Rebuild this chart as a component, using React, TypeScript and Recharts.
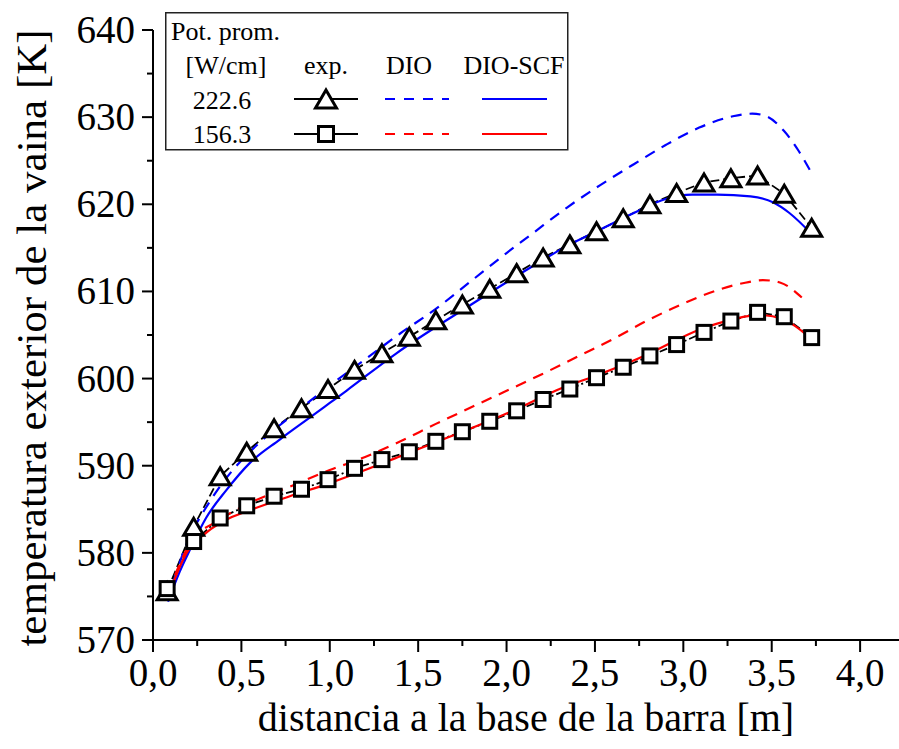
import React from "react";
import { LineChart, Line, XAxis, YAxis } from "recharts";

const FONT = '"Liberation Serif", "Times New Roman", serif';

// measured points (exp.)
const expX = [0.08, 0.23, 0.38, 0.53, 0.685, 0.84, 0.99, 1.14, 1.295, 1.45, 1.6, 1.75, 1.905, 2.057, 2.207, 2.358, 2.509, 2.66, 2.811, 2.962, 3.117, 3.269, 3.42, 3.571, 3.726];
const exp226 = [575.6, 583.0, 588.8, 591.6, 594.3, 596.6, 598.8, 601.0, 602.9, 604.8, 606.7, 608.5, 610.3, 612.1, 613.9, 615.4, 616.9, 618.4, 620.0, 621.3, 622.5, 623.0, 623.3, 621.2, 617.3];
const exp156 = [575.9, 581.3, 584.0, 585.4, 586.5, 587.3, 588.4, 589.7, 590.7, 591.6, 592.8, 593.9, 595.1, 596.3, 597.6, 598.8, 600.1, 601.3, 602.6, 603.9, 605.3, 606.6, 607.6, 607.1, 604.7];

// DIO, 222.6 W/cm
const dio226X = [0.085, 0.15, 0.2, 0.3, 0.4, 0.5, 0.6, 0.8, 1.0, 1.2, 1.4, 1.6, 1.8, 2.0, 2.15, 2.34, 2.53, 2.72, 2.9, 3.09, 3.28, 3.39, 3.47, 3.57, 3.65, 3.73];
const dio226 = [574.6, 578.8, 581.5, 585.2, 588.2, 590.6, 592.6, 596.0, 599.2, 602.2, 605.2, 608.0, 611.2, 614.4, 616.7, 619.6, 622.2, 624.6, 626.8, 628.8, 630.1, 630.4, 630.1, 628.4, 626.2, 623.4];

// DIO-SCF, 222.6 W/cm
const scf226X = [0.085, 0.15, 0.21, 0.3, 0.415, 0.547, 0.717, 0.906, 1.0, 1.094, 1.377, 1.754, 2.14, 2.34, 2.53, 2.72, 2.9, 3.05, 3.19, 3.38, 3.51, 3.6, 3.73];
const scf226 = [574.4, 577.8, 580.4, 584.0, 587.2, 590.3, 593.0, 595.8, 597.2, 598.6, 602.9, 607.9, 612.8, 615.2, 617.1, 619.0, 620.6, 621.1, 621.1, 620.9, 620.2, 619.0, 616.5];

// DIO, 156.3 W/cm
const dio156X = [0.085, 0.21, 0.377, 0.547, 0.774, 1.0, 1.2, 1.4, 1.6, 1.8, 2.0, 2.2, 2.4, 2.6, 2.8, 3.0, 3.2, 3.35, 3.45, 3.55, 3.67];
const dio156 = [575.4, 581.1, 583.8, 585.7, 587.6, 589.5, 591.0, 592.8, 594.8, 596.7, 598.6, 600.5, 602.5, 604.5, 606.7, 608.6, 610.2, 611.0, 611.3, 611.0, 609.3];

// DIO-SCF, 156.3 W/cm
const scf156X = [0.085, 0.19, 0.3, 0.434, 0.547, 0.774, 1.0, 1.2, 1.4, 1.6, 1.8, 2.0, 2.13, 2.3, 2.5, 2.7, 2.81, 3.09, 3.28, 3.43, 3.565, 3.726];
const scf156 = [575.0, 580.0, 582.3, 584.0, 584.9, 586.5, 588.0, 589.5, 591.1, 592.7, 594.3, 596.0, 597.2, 598.8, 600.3, 601.9, 602.9, 605.6, 606.8, 607.3, 606.8, 604.5];

const xTicks = [0, 0.25, 0.5, 0.75, 1, 1.25, 1.5, 1.75, 2, 2.25, 2.5, 2.75, 3, 3.25, 3.5, 3.75, 4];
const yTicks = [570, 575, 580, 585, 590, 595, 600, 605, 610, 615, 620, 625, 630, 635, 640];

const zip = (xs: number[], ys: number[]) => xs.map((x, i) => ({ x, y: ys[i] }));

const BLUE = "#0000ff";
const RED = "#ff0000";

const XTick = (props: any) => {
  const { x, y, payload } = props;
  const v = payload.value as number;
  const major = Math.abs(v * 2 - Math.round(v * 2)) < 1e-6;
  return (
    <g>
      <line x1={x} x2={x} y1={y} y2={y + (major ? 12 : 6)} stroke="#000" strokeWidth={2} />
      {major && (
        <text x={x} y={y + 46} textAnchor="middle" fontFamily={FONT} fontSize={39} fill="#000">
          {v.toFixed(1).replace(".", ",")}
        </text>
      )}
    </g>
  );
};

const YTick = (props: any) => {
  const { x, y, payload } = props;
  const v = payload.value as number;
  const major = v % 10 === 0;
  return (
    <g>
      <line x1={x - (major ? 11 : 6)} x2={x} y1={y} y2={y} stroke="#000" strokeWidth={2} />
      {major && (
        <text x={x - 18} y={y + 13} textAnchor="end" fontFamily={FONT} fontSize={39} fill="#000">
          {v}
        </text>
      )}
    </g>
  );
};

const Tri = ({ cx, cy, size = 20, sw = 3 }: any) => {
  const h = size * 0.85;
  return (
    <polygon
      points={`${cx},${cy - h / 2} ${cx + size / 2},${cy + h / 2} ${cx - size / 2},${cy + h / 2}`}
      fill="#fff"
      stroke="#000"
      strokeWidth={sw}
      strokeLinejoin="miter"
    />
  );
};

const Sq = ({ cx, cy, size = 14, sw = 3 }: any) => (
  <rect x={cx - size / 2} y={cy - size / 2} width={size} height={size} fill="#fff" stroke="#000" strokeWidth={sw} />
);

const Legend = () => (
  <svg
    width={404}
    height={139}
    style={{ position: "absolute", left: 165, top: 12 }}
    fontFamily={FONT}
    fontSize={26}
  >
    <rect x={0.75} y={0.75} width={402} height={137} fill="#fff" stroke="#222" strokeWidth={1.5} />
    <text x={6} y={28}>Pot. prom.</text>
    <text x={61} y={62} textAnchor="middle">[W/cm]</text>
    <text x={161} y={62} textAnchor="middle">exp.</text>
    <text x={244} y={62} textAnchor="middle">DIO</text>
    <text x={349} y={62} textAnchor="middle">DIO-SCF</text>
    <text x={57} y={97} textAnchor="middle">222.6</text>
    <text x={57} y={131} textAnchor="middle">156.3</text>
    <line x1={129} x2={193} y1={87} y2={87} stroke="#000" strokeWidth={2} />
    <Tri cx={161} cy={87} size={21} />
    <line x1={129} x2={193} y1={122} y2={122} stroke="#000" strokeWidth={2} />
    <Sq cx={161} cy={122} size={15} />
    <line x1={220} x2={284} y1={87} y2={87} stroke={BLUE} strokeWidth={2.2} strokeDasharray="10 9" />
    <line x1={220} x2={284} y1={122} y2={122} stroke={RED} strokeWidth={2.2} strokeDasharray="10 9" />
    <line x1={317} x2={382} y1={87} y2={87} stroke={BLUE} strokeWidth={2.2} />
    <line x1={317} x2={382} y1={122} y2={122} stroke={RED} strokeWidth={2.2} />
  </svg>
);

export default function App() {
  return (
    <div style={{ position: "absolute", left: 0, top: 0, width: 899, height: 749, background: "#fff" }}>
      <LineChart width={899} height={749} margin={{ top: 30, right: 0, left: 0, bottom: 49 }}>
        <XAxis
          dataKey="x"
          type="number"
          domain={[0, 4.22]}
          allowDataOverflow
          ticks={xTicks}
          interval={0}
          tick={<XTick />}
          tickLine={false}
          tickSize={0}
          tickMargin={0}
          height={60}
          axisLine={{ stroke: "#000", strokeWidth: 2 }}
          label={{ value: "distancia a la base de la barra [m]", position: "insideBottom", offset: -31, fontFamily: FONT, fontSize: 40, fill: "#000" }}
        />
        <YAxis
          type="number"
          domain={[570, 640]}
          allowDataOverflow
          ticks={yTicks}
          interval={0}
          tick={<YTick />}
          tickLine={false}
          tickSize={0}
          tickMargin={0}
          width={153}
          axisLine={{ stroke: "#000", strokeWidth: 2 }}
          label={{
            content: () => (
              <text
                x={46}
                y={338}
                transform="rotate(-90 46 338)"
                textAnchor="middle"
                fontFamily={FONT}
                fontSize={43}
                fill="#000"
              >
                temperatura exterior de la vaina [K]
              </text>
            ),
          }}
        />
        <Line
          data={zip(expX, exp226)}
          dataKey="y"
          type="linear"
          stroke="#000"
          strokeWidth={1.8}
          strokeDasharray="9 4"
          isAnimationActive={false}
          activeDot={false}
          dot={(p: any) => <Tri key={`t${p.index}`} cx={p.cx} cy={p.cy} />}
        />
        <Line
          data={zip(expX, exp156)}
          dataKey="y"
          type="linear"
          stroke="#000"
          strokeWidth={1.8}
          strokeDasharray="8 3 2 3"
          isAnimationActive={false}
          activeDot={false}
          dot={(p: any) => <Sq key={`s${p.index}`} cx={p.cx} cy={p.cy} />}
        />
        <Line data={zip(dio226X, dio226)} dataKey="y" type="monotone" stroke={BLUE} strokeWidth={2.2} strokeDasharray="11 8" dot={false} activeDot={false} isAnimationActive={false} />
        <Line data={zip(scf226X, scf226)} dataKey="y" type="monotone" stroke={BLUE} strokeWidth={2.2} dot={false} activeDot={false} isAnimationActive={false} />
        <Line data={zip(dio156X, dio156)} dataKey="y" type="monotone" stroke={RED} strokeWidth={2.2} strokeDasharray="11 8" dot={false} activeDot={false} isAnimationActive={false} />
        <Line data={zip(scf156X, scf156)} dataKey="y" type="monotone" stroke={RED} strokeWidth={2.2} dot={false} activeDot={false} isAnimationActive={false} />
      </LineChart>
      <Legend />
    </div>
  );
}
